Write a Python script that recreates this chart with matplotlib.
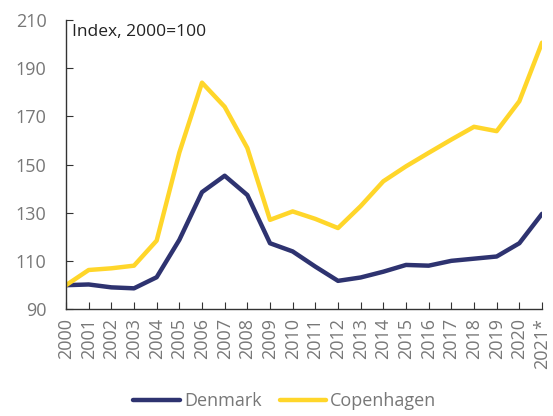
import matplotlib
matplotlib.use("Agg")
import matplotlib.pyplot as plt

years = ["2000", "2001", "2002", "2003", "2004", "2005", "2006", "2007", "2008", "2009", "2010",
         "2011", "2012", "2013", "2014", "2015", "2016", "2017", "2018", "2019", "2020", "2021*"]
denmark = [100, 100.3, 99.1, 98.7, 103.3, 118.8, 138.6, 145.4, 137.4, 117.4, 114.0,
           107.7, 101.8, 103.2, 105.6, 108.4, 108.1, 110.1, 111.0, 111.9, 117.4, 129.6]
copenhagen = [100, 106.3, 107.0, 108.1, 118.5, 155.0, 184.0, 174.0, 156.9, 127.1, 130.6,
              127.5, 123.7, 132.8, 143.1, 149.3, 154.9, 160.4, 165.7, 163.9, 176.3, 200.6]
yticks = [90, 110, 130, 150, 170, 190, 210]

plt.rcParams['font.family'] = ['Open Sans', 'DejaVu Sans']

fig = plt.figure(figsize=(5.53, 4.16), dpi=100)
ax = fig.add_axes([66/553, 1-309.3/416, (542-66)/553, (309.3-20)/416])

x = list(range(len(years)))
ax.plot(x, denmark, color="#2E3370", lw=3.2, label="Denmark", solid_capstyle="round", solid_joinstyle="round")
ax.plot(x, copenhagen, color="#FFD62A", lw=3.2, label="Copenhagen", solid_capstyle="round", solid_joinstyle="round")

ax.set_xlim(0, len(years) - 1)
ax.set_ylim(90, 210)
ax.set_yticks(yticks)
ax.set_xticks(x)
ax.set_xticklabels(years, rotation=90)

for s in ["top", "right"]:
    ax.spines[s].set_visible(False)
for s in ["left", "bottom"]:
    ax.spines[s].set_color("#333333")
    ax.spines[s].set_linewidth(1.0)

ax.tick_params(axis="both", direction="in", length=5, color="#333333", labelcolor="#777777", labelsize=13)
ax.tick_params(axis="y", pad=14)
ax.tick_params(axis="x", pad=6)

ax.text(0.012, 0.985, "Index, 2000=100", transform=ax.transAxes, ha="left", va="top",
        fontsize=12.5, color="#222222")

fig.legend(loc="lower center", bbox_to_anchor=(0.515, -0.025), ncol=2, frameon=False,
           fontsize=13, handlelength=2.6, handletextpad=0.2, columnspacing=1.0,
           labelcolor="#777777")

fig.savefig("out.png", dpi=100)
